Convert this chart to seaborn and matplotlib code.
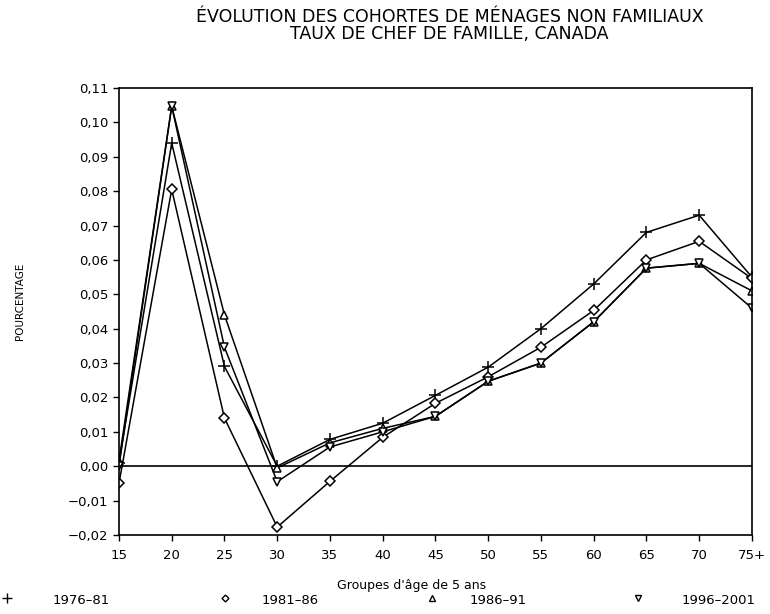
import matplotlib
matplotlib.use("Agg")
import matplotlib.pyplot as plt
from matplotlib.lines import Line2D
import seaborn as sns
import pandas as pd
from matplotlib.ticker import FuncFormatter

ages = ["15", "20", "25", "30", "35", "40", "45", "50", "55", "60", "65", "70", "75+"]
s1976 = [0.001, 0.094, 0.029, 0.000, 0.0078, 0.0125, 0.0206, 0.0288, 0.040, 0.053, 0.068, 0.073, 0.055]
s1981 = [-0.005, 0.0805, 0.014, -0.0177, -0.0044, 0.0084, 0.0183, 0.026, 0.0346, 0.0453, 0.060, 0.0654, 0.0546]
s1986 = [0.0015, 0.1047, 0.044, -0.0005, 0.0068, 0.011, 0.0145, 0.0247, 0.030, 0.042, 0.0576, 0.059, 0.051]
s1996 = [0.000, 0.1047, 0.0346, -0.0045, 0.0056, 0.0100, 0.0145, 0.0247, 0.030, 0.042, 0.0576, 0.059, 0.046]
series_names = ["1976-81", "1981-86", "1986-91", "1996-2001"]
legend_labels = ["1976\u201381", "1981\u201386", "1986\u201391", "1996\u20132001"]
yticks = [-0.02, -0.01, 0.00, 0.01, 0.02, 0.03, 0.04, 0.05, 0.06, 0.07, 0.08, 0.09, 0.10, 0.11]

rows = []
for name, vals in zip(series_names, [s1976, s1981, s1986, s1996]):
    for i, (a, v) in enumerate(zip(ages, vals)):
        rows.append({"pos": i, "age": a, "val": v, "serie": name})
df = pd.DataFrame(rows)

sns.set_theme(style="ticks")
plt.rcParams['font.family'] = ['DejaVu Sans']
plt.rcParams['text.color'] = 'black'

fig = plt.figure(figsize=(7.7, 6.14), dpi=100)
ax = fig.add_axes([0.1545, 0.1287, 0.822, 0.728])

markers = {"1976-81": "+", "1981-86": "D", "1986-91": "^", "1996-2001": "v"}
sizes_m = {"1976-81": 8, "1981-86": 5, "1986-91": 6, "1996-2001": 6}
for name in series_names:
    sub = df[df.serie == name]
    sns.lineplot(data=sub, x="pos", y="val", ax=ax, color="black", linewidth=1.1,
                 marker=markers[name], markersize=sizes_m[name], markerfacecolor="white",
                 markeredgecolor="black", markeredgewidth=1.1, legend=False)

ax.axhline(0, color="black", linewidth=1.2)
ax.set_xlim(0, len(ages) - 1)
ax.set_ylim(-0.02, 0.11)
ax.set_xticks(range(len(ages)))
ax.set_xticklabels(ages)
ax.set_yticks(yticks)
ax.yaxis.set_major_formatter(FuncFormatter(lambda v, p: f"{v:.2f}".replace(".", ",").replace("-", "\u2212")))
for sp in ax.spines.values():
    sp.set_visible(True)
    sp.set_color("black")
    sp.set_linewidth(1.2)
ax.tick_params(axis="both", colors="black", labelsize=9.5, length=4, width=1)
ax.tick_params(axis="x", pad=6)
ax.set_xlabel("")
ax.set_ylabel("")

fig.text(0.584, 0.972, "ÉVOLUTION DES COHORTES DE MÉNAGES NON FAMILIAUX",
         ha="center", va="center", fontsize=12.5, color="black")
fig.text(0.584, 0.944, "TAUX DE CHEF DE FAMILLE, CANADA",
         ha="center", va="center", fontsize=12.5, color="black")
fig.text(0.026, 0.51, "POURCENTAGE", rotation=90, ha="center", va="center", fontsize=7.5, color="black")
fig.text(0.535, 0.047, "Groupes d'âge de 5 ans", ha="center", va="center", fontsize=9, color="black")

# legend row at the bottom
leg_marker_x = [7, 225, 432, 638]
leg_text_x = [53, 262, 470, 682]
leg_y = 1 - 600 / 614
for n, lab, mx, tx in zip(series_names, legend_labels, leg_marker_x, leg_text_x):
    fig.add_artist(Line2D([mx / 770], [leg_y + 0.003], transform=fig.transFigure, linestyle="none",
                          marker=markers[n], markersize=sizes_m[n] - 1.5, markerfacecolor="white",
                          markeredgecolor="black", markeredgewidth=1.0))
    fig.text(tx / 770, leg_y, lab, ha="left", va="center", fontsize=9.5, color="black")

fig.savefig("out.png", dpi=100)
